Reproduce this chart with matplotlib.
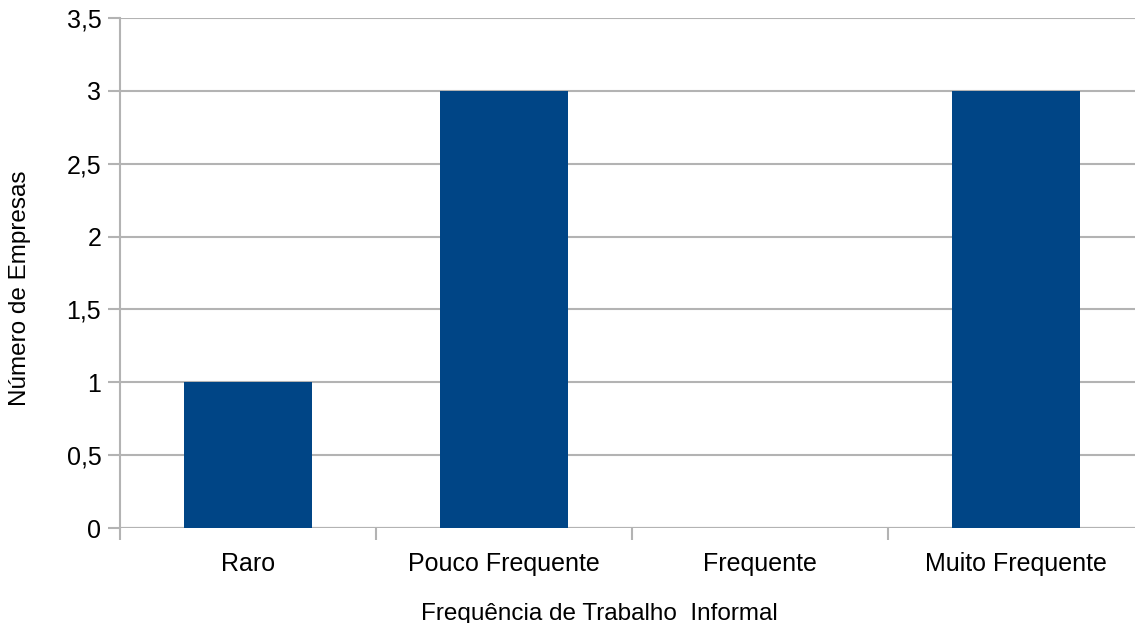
import matplotlib
matplotlib.use("Agg")
import matplotlib.pyplot as plt
from matplotlib.ticker import FuncFormatter, FixedLocator

categories = ["Raro", "Pouco Frequente", "Frequente", "Muito Frequente"]
empresas = [1, 3, 0, 3]
y_ticks = [0, 0.5, 1, 1.5, 2, 2.5, 3, 3.5]

plt.rcParams["font.family"] = ["Liberation Sans", "DejaVu Sans"]

W, H = 1135, 623
fig = plt.figure(figsize=(W / 100, H / 100), dpi=100)
ax = fig.add_axes([120 / W, 95 / H, 1024 / W, 510 / H])

bar_color = "#004586"
grid_color = "#b3b3b3"

x = list(range(len(categories)))
ax.bar(x, empresas, width=0.5, color=bar_color, zorder=3)

ax.set_xlim(-0.5, len(categories) - 0.5)
ax.set_ylim(0, 3.5)
ax.yaxis.set_major_locator(FixedLocator(y_ticks))
ax.yaxis.set_major_formatter(FuncFormatter(lambda v, p: f"{v:g}".replace(".", ",")))
ax.grid(axis="y", color=grid_color, linewidth=1.5, zorder=0)

ax.set_xticks(x)
ax.set_xticklabels(categories)
ax.set_xticks([i - 0.5 for i in range(len(categories) + 1)], minor=True)
ax.tick_params(axis="x", which="major", length=0, pad=17, labelsize=18, colors="black")
ax.tick_params(axis="x", which="minor", length=8.5, width=1.5, color=grid_color)
ax.tick_params(axis="y", length=8.5, width=1.5, color=grid_color, labelsize=18, pad=5)

for side in ["top", "right", "bottom"]:
    ax.spines[side].set_visible(False)
ax.spines["left"].set_color(grid_color)
ax.spines["left"].set_linewidth(1.5)
ax.axhline(0, color=grid_color, linewidth=1.5, zorder=2)

# axis titles placed in figure pixels
fig.text(599 / W, 3 / H, "Frequência de Trabalho  Informal", fontsize=17.5,
         ha="center", va="baseline")
fig.text(20 / W, 1 - 288 / H, "Número de Empresas", fontsize=17.5,
         rotation=90, ha="center", va="center")

fig.savefig("out.png", dpi=100, facecolor="white")
